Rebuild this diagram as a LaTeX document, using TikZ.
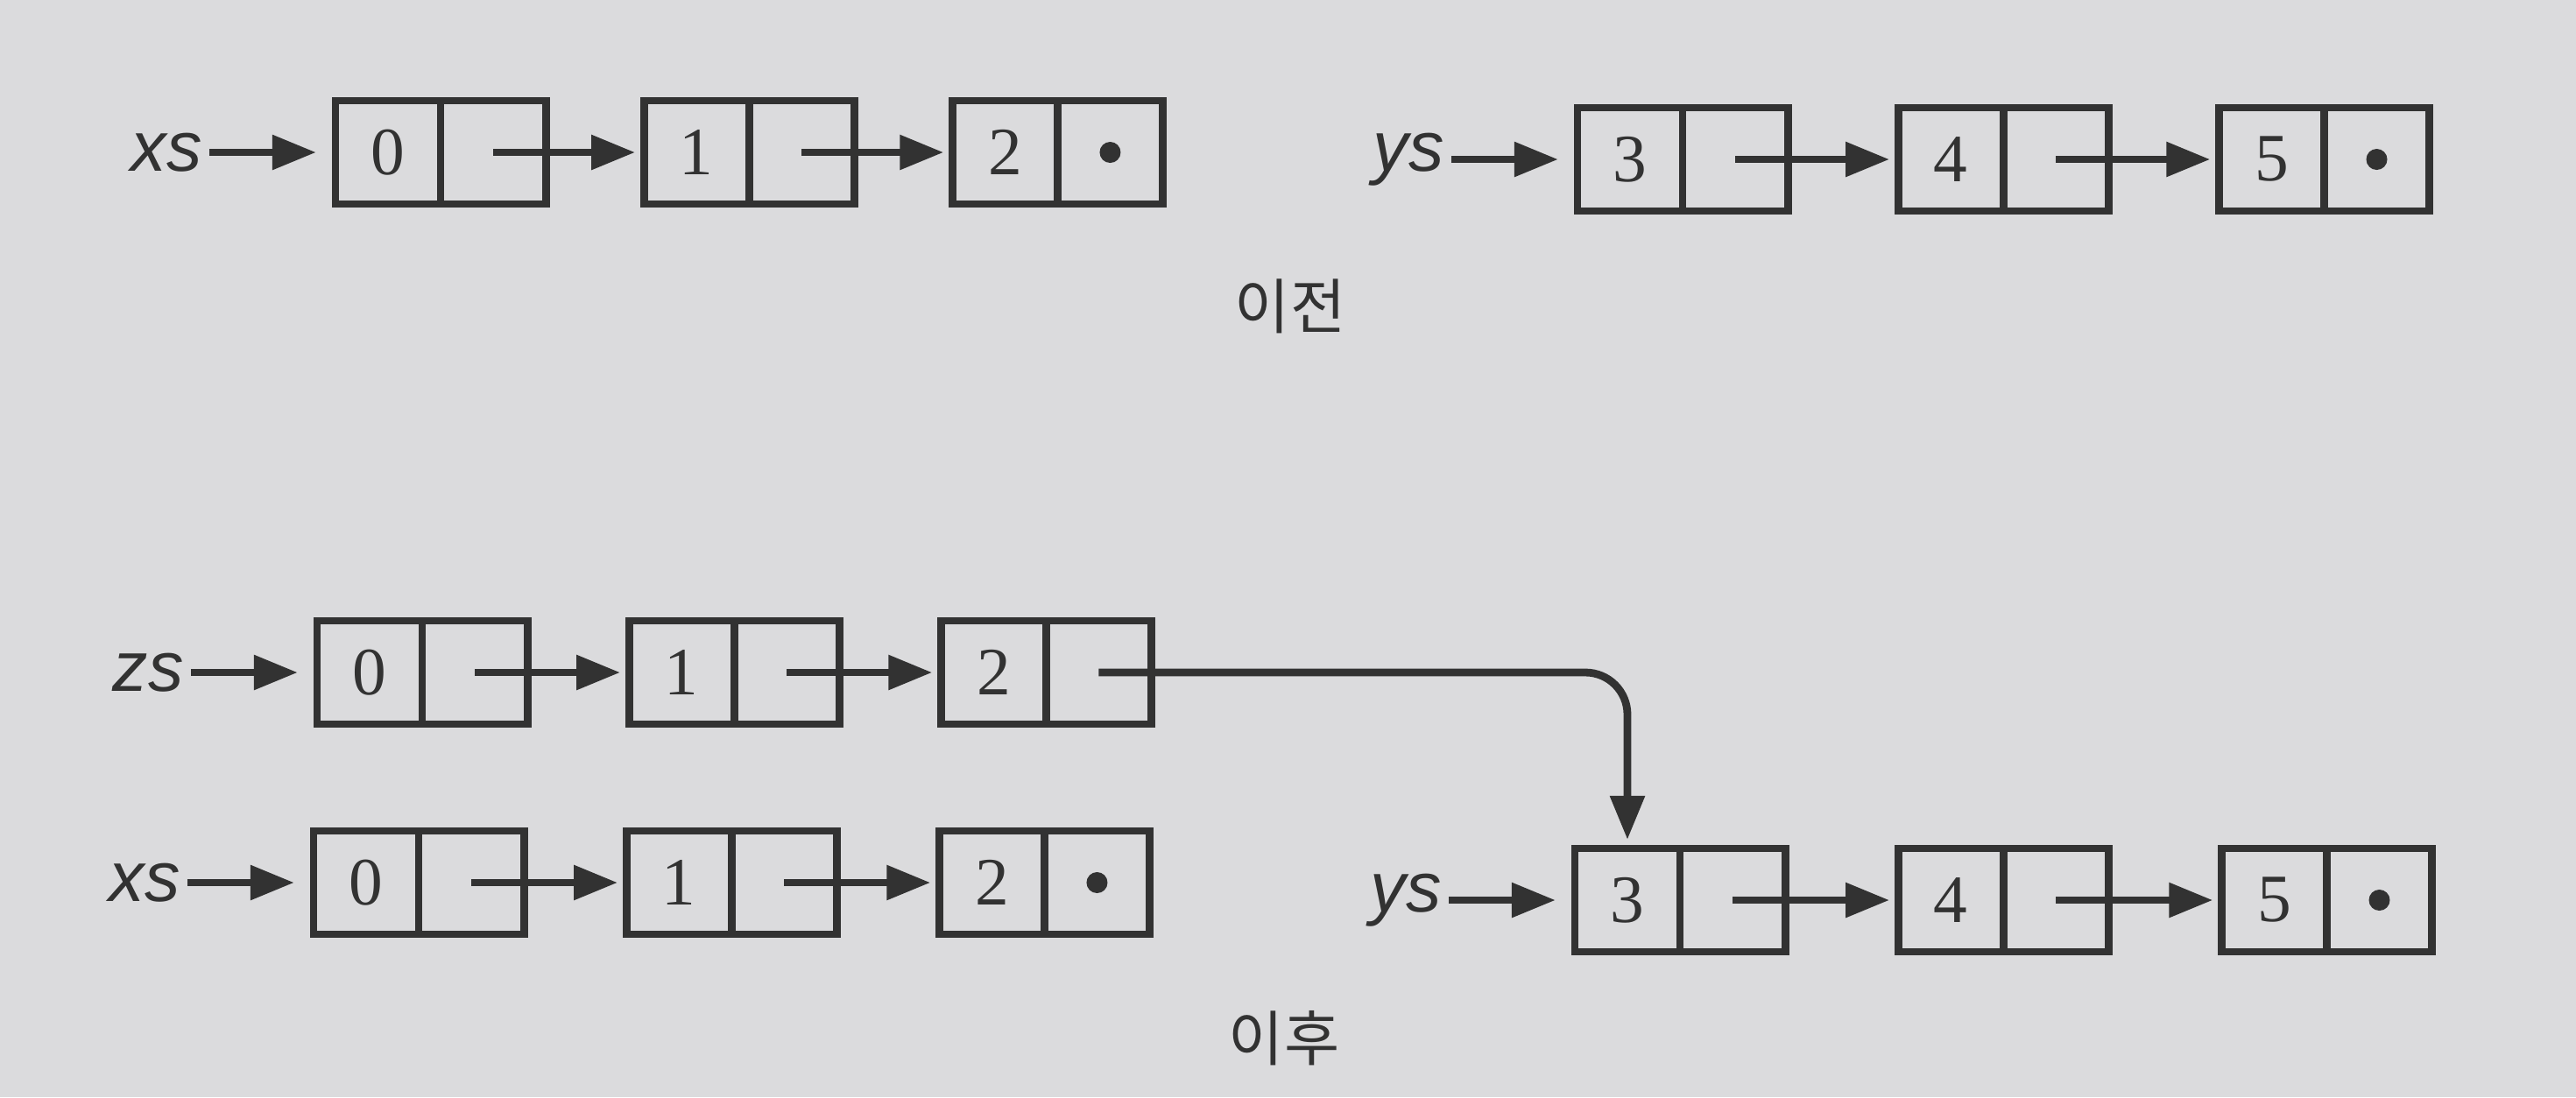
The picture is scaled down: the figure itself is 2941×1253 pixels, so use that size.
\documentclass[tikz,border=0pt]{standalone}
\usepackage{fontspec}
\setmainfont{Liberation Serif}
\setsansfont{Liberation Sans}
\newfontfamily\kofont{Noto Sans CJK KR}
\usetikzlibrary{positioning,arrows.meta}
\definecolor{paper}{RGB}{219,219,221}
\definecolor{ink}{RGB}{50,50,50}

\begin{document}
\begin{tikzpicture}[x=0.01cm, y=-0.01cm, color=ink, line width=2.5pt,
    >={Triangle[length=0.5cm,width=0.38cm]},
    val/.style={draw, minimum width=1.2cm, minimum height=1.18cm, inner sep=0pt, outer sep=0pt, font=\fontsize{22}{26}\selectfont},
    lab/.style={font=\sffamily\itshape\fontsize{23}{26}\selectfont, inner sep=0pt},
    ptr/.style={->, shorten >=0.1cm},
    head/.style={->, shorten <=0.04cm, shorten >=0.22cm},
    caption/.style={font=\kofont\fontsize{19.5}{22}\selectfont}]
  \fill[paper] (0,0) rectangle (2941,1253);

  % before
  \node[val] (x0) at (443,174) {0};
  \node[val, right=0pt of x0] (x0n) {};
  \node[val, right=1.12cm of x0n] (x1) {1};
  \node[val, right=0pt of x1] (x1n) {};
  \node[val, right=1.12cm of x1n] (x2) {2};
  \node[val, right=0pt of x2] (x2n) {};
  \node[lab, left=1.48cm of x0] (xs) {xs};

  \node[val] (y0) at (1861,182) {3};
  \node[val, right=0pt of y0] (y0n) {};
  \node[val, right=1.26cm of y0n] (y1) {4};
  \node[val, right=0pt of y1] (y1n) {};
  \node[val, right=1.26cm of y1n] (y2) {5};
  \node[val, right=0pt of y2] (y2n) {};
  \node[lab, left=1.48cm of y0] (ys) {ys};

  \draw[head] (xs.east) -- (x0.west);
  \draw[ptr] (x0n.center) -- (x1.west);
  \draw[ptr] (x1n.center) -- (x2.west);
  \fill (x2n.center) circle (0.12cm);
  \draw[head] (ys.east) -- (y0.west);
  \draw[ptr] (y0n.center) -- (y1.west);
  \draw[ptr] (y1n.center) -- (y2.west);
  \fill (y2n.center) circle (0.12cm);

  \node[caption] (before) at (1473,350) {이전};

  % after
  \node[val] (z0) at (422,768) {0};
  \node[val, right=0pt of z0] (z0n) {};
  \node[val, right=1.16cm of z0n] (z1) {1};
  \node[val, right=0pt of z1] (z1n) {};
  \node[val, right=1.16cm of z1n] (z2) {2};
  \node[val, right=0pt of z2] (z2n) {};
  \node[lab, left=1.48cm of z0] (zs) {zs};

  \node[val] (xa0) at (418,1008) {0};
  \node[val, right=0pt of xa0] (xa0n) {};
  \node[val, right=1.17cm of xa0n] (xa1) {1};
  \node[val, right=0pt of xa1] (xa1n) {};
  \node[val, right=1.17cm of xa1n] (xa2) {2};
  \node[val, right=0pt of xa2] (xa2n) {};
  \node[lab, left=1.48cm of xa0] (xsa) {xs};

  \node[val] (ya0) at (1858,1028) {3};
  \node[val, right=0pt of ya0] (ya0n) {};
  \node[val, right=1.29cm of ya0n] (ya1) {4};
  \node[val, right=0pt of ya1] (ya1n) {};
  \node[val, right=1.29cm of ya1n] (ya2) {5};
  \node[val, right=0pt of ya2] (ya2n) {};
  \node[lab, left=1.48cm of ya0] (ysa) {ys};

  \draw[head] (zs.east) -- (z0.west);
  \draw[ptr] (z0n.center) -- (z1.west);
  \draw[ptr] (z1n.center) -- (z2.west);
  \draw[ptr, rounded corners=0.48cm] (z2n.center) -| (ya0.north);
  \draw[head] (xsa.east) -- (xa0.west);
  \draw[ptr] (xa0n.center) -- (xa1.west);
  \draw[ptr] (xa1n.center) -- (xa2.west);
  \fill (xa2n.center) circle (0.12cm);
  \draw[head] (ysa.east) -- (ya0.west);
  \draw[ptr] (ya0n.center) -- (ya1.west);
  \draw[ptr] (ya1n.center) -- (ya2.west);
  \fill (ya2n.center) circle (0.12cm);

  \node[caption] (after) at (1466,1186) {이후};
\end{tikzpicture}
\end{document}
